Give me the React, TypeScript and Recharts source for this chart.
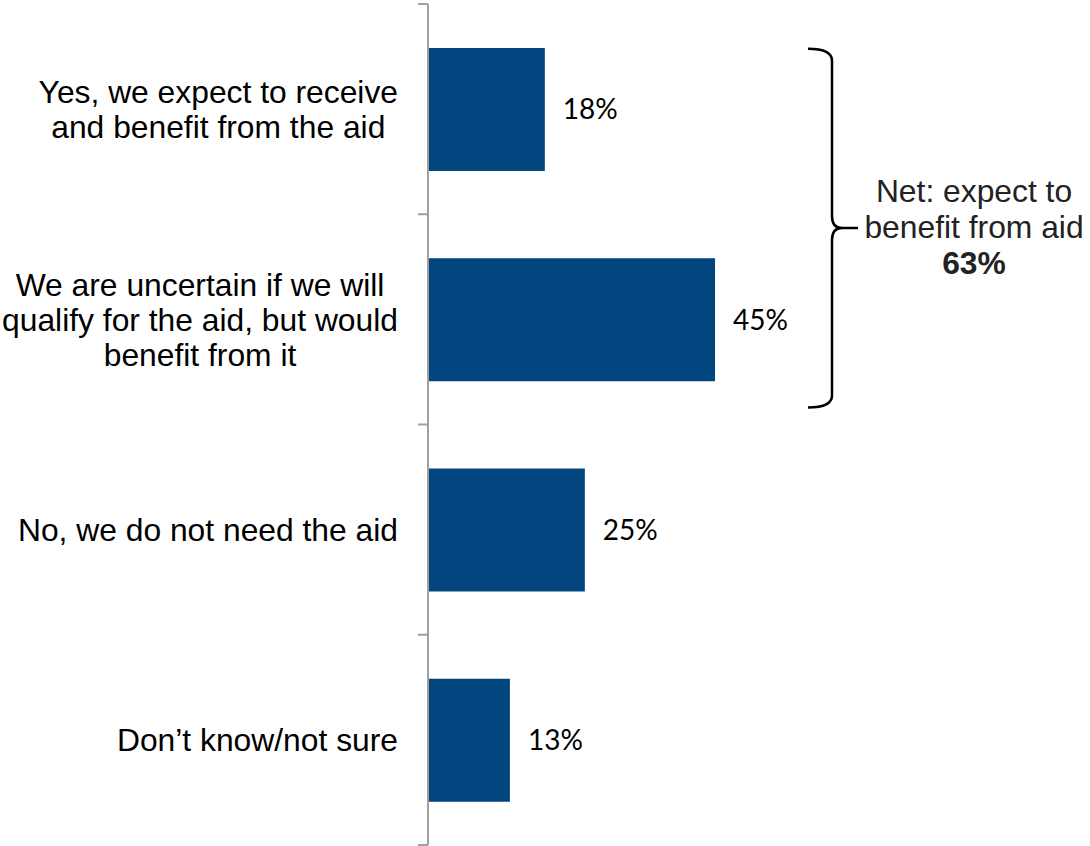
import { BarChart, Bar, XAxis, YAxis, LabelList } from 'recharts';

const categories = [
  'Yes, we expect to receive\nand benefit from the aid',
  'We are uncertain if we will\nqualify for the aid, but would\nbenefit from it',
  'No, we do not need the aid',
  'Don\u2019t know/not sure',
];
const shares = [18.4, 45.2, 24.7, 12.9];
const netLines = ['Net: expect to', 'benefit from aid'];
const netCount = 2; // first two answers make up the net

const W = 1090;
const H = 846;
const MARGIN = { top: 4, right: 27, bottom: 1, left: 0 };
const AXIS_W = 428;
const BAR_SIZE = 123;
const BAR_COLOR = '#03467f';
const AXIS_COLOR = '#a0a0a0';
const LABEL_FONT = "'Liberation Sans', Arial, sans-serif";
const LABEL_SIZE = 31.8;
const LINE_H = 35;

const data = categories.map((name, i) => ({ name, value: shares[i] }));
const pct = (v: number) => `${Math.round(v)}%`;
const netValue = shares.slice(0, netCount).reduce((s, v) => s + Math.round(v), 0);

const plotH = H - MARGIN.top - MARGIN.bottom;
const band = plotH / categories.length;

let ctx: CanvasRenderingContext2D | null = null;
function textWidth(t: string) {
  if (!ctx) ctx = document.createElement('canvas').getContext('2d');
  if (!ctx) return t.length * LABEL_SIZE * 0.5;
  ctx.font = `${LABEL_SIZE}px ${LABEL_FONT}`;
  return ctx.measureText(t).width;
}

function CategoryTick(props: any) {
  const { x, y, payload, index } = props;
  const lines: string[] = String(payload.value).split('\n');
  const blockW = Math.max(...lines.map(textWidth));
  const cx = x - blockW / 2;
  const startY = y - ((lines.length - 1) * LINE_H) / 2;
  const axisX = MARGIN.left + AXIS_W;
  return (
    <g>
      <line x1={axisX - 10} x2={axisX} y1={y - band / 2} y2={y - band / 2} stroke={AXIS_COLOR} strokeWidth={2} />
      {index === categories.length - 1 && (
        <line x1={axisX - 10} x2={axisX} y1={y + band / 2} y2={y + band / 2} stroke={AXIS_COLOR} strokeWidth={2} />
      )}
      <text textAnchor="middle" fontFamily={LABEL_FONT} fontSize={LABEL_SIZE} fill="#000">
        {lines.map((l, i) => (
          <tspan key={i} x={cx} y={startY + i * LINE_H} dy="0.35em">
            {l}
          </tspan>
        ))}
      </text>
    </g>
  );
}

export default function App() {
  // brace around the first two bars
  const top = MARGIN.top + band / 2 - BAR_SIZE / 2 + 1;
  const bottom = MARGIN.top + 2 * band - 17;
  const mid = (top + bottom) / 2;
  const bx = 832;
  const brace = `M ${bx - 24} ${top} Q ${bx} ${top} ${bx} ${top + 12} L ${bx} ${mid - 12} Q ${bx} ${mid} ${bx + 10} ${mid} L ${bx + 26} ${mid} M ${bx + 10} ${mid} Q ${bx} ${mid} ${bx} ${mid + 12} L ${bx} ${bottom - 12} Q ${bx} ${bottom} ${bx - 24} ${bottom}`;

  return (
    <div style={{ position: 'absolute', left: 0, top: 0, width: W, height: H }}>
      <BarChart width={W} height={H} data={data} layout="vertical" margin={MARGIN} barCategoryGap={0}>
        <XAxis type="number" domain={[0, 100]} hide />
        <YAxis
          type="category"
          dataKey="name"
          width={AXIS_W}
          axisLine={{ stroke: AXIS_COLOR, strokeWidth: 2 }}
          tickLine={false}
          tickSize={10}
          tickMargin={20}
          tick={<CategoryTick />}
          interval={0}
        />
        <Bar dataKey="value" fill={BAR_COLOR} barSize={BAR_SIZE} isAnimationActive={false}>
          <LabelList
            dataKey="value"
            position="right"
            offset={18}
            formatter={(v: any) => pct(Number(v))}
            style={{ fontFamily: 'Lato, sans-serif', fontSize: 28, fill: '#000' }}
          />
        </Bar>
      </BarChart>
      <svg width={W} height={H} style={{ position: 'absolute', left: 0, top: 0, pointerEvents: 'none' }}>
        <path d={brace} fill="none" stroke="#000" strokeWidth={2.5} />
        <text textAnchor="middle" fontFamily={LABEL_FONT} fontSize={LABEL_SIZE} fill="#222">
          {netLines.map((l, i) => (
            <tspan key={i} x={974} y={mid - 37 + i * 36} dy="0.35em">
              {l}
            </tspan>
          ))}
          <tspan x={974} y={mid + 35} dy="0.35em" fontWeight="bold">
            {netValue}%
          </tspan>
        </text>
      </svg>
    </div>
  );
}
